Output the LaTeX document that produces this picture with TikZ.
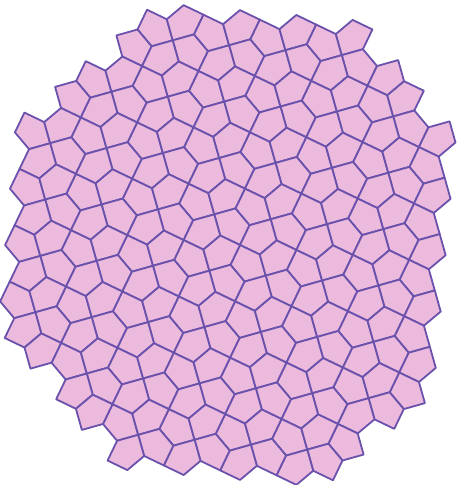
\documentclass[tikz,border=0pt]{standalone}
\begin{document}
\begin{tikzpicture}[x=1pt, y=-1pt, line join=round]
		\definecolor{tilepink}{RGB}{236, 186, 220}
		\definecolor{edgepurple}{RGB}{106, 82, 172}
		\tikzset{tile/.style={fill=tilepink, draw=edgepurple, line width=1.8pt}}
		\useasboundingbox (0,0) rectangle (464,485);
		
		% 开罗五边形参数
		\pgfmathsetmacro{\t}{(sqrt(7)-1)/6}
		\pgfmathsetmacro{\a}{0.5-\t}
		\def\ur{40}
		\def\ph{50}
		\pgfmathsetmacro{\uc}{\ur*cos(\ph)}
		\pgfmathsetmacro{\us}{\ur*sin(\ph)}
		% 外形范围（像素）
		\def\Pl{-214}
		\def\Pr{206}
		\def\Hq{226}
		\def\K{338}
		\def\Kr{312}
		
		% 旋转后的格点坐标系
		\begin{scope}[shift={(240,245)}, x={(\uc pt,-\us pt)}, y={(-\us pt,-\uc pt)}]
			\foreach \i in {-10,...,10}{
				\foreach \j in {-10,...,10}{
					\pgfmathsetmacro{\sg}{ifthenelse(mod(\i+\j+40,2)==0,1,-1)}
					% 横边上的五边形
					\pgfmathsetmacro{\p}{\ur*((\i+0.5)*cos(\ph-5)-\j*sin(\ph-5))}
					\pgfmathsetmacro{\q}{\ur*((\i+0.5)*sin(\ph-5)+\j*cos(\ph-5))}
					\pgfmathparse{(\p>=\Pl) && (\p<=\Pr) && (abs(\q)<=\Hq) && (abs(\p)+abs(\q)<=\K) && (\p+\q<=\Kr)}
					\ifdim\pgfmathresult pt>0.5pt
						\draw[tile] (\i,\j) -- ({\i+0.5},{\j-(\sg)*\a}) -- ({\i+1},\j)
							-- ({\i+0.5+\t},{\j+(\sg)*0.5}) -- ({\i+0.5-\t},{\j+(\sg)*0.5}) -- cycle;
					\fi
					% 竖边上的五边形
					\pgfmathsetmacro{\p}{\ur*(\i*cos(\ph-5)-(\j+0.5)*sin(\ph-5))}
					\pgfmathsetmacro{\q}{\ur*(\i*sin(\ph-5)+(\j+0.5)*cos(\ph-5))}
					\pgfmathparse{(\p>=\Pl) && (\p<=\Pr) && (abs(\q)<=\Hq) && (abs(\p)+abs(\q)<=\K) && (\p+\q<=\Kr)}
					\ifdim\pgfmathresult pt>0.5pt
						\draw[tile] (\i,\j) -- ({\i+(\sg)*\a},{\j+0.5}) -- (\i,{\j+1})
							-- ({\i-(\sg)*0.5},{\j+0.5+\t}) -- ({\i-(\sg)*0.5},{\j+0.5-\t}) -- cycle;
					\fi
				}
			}
		\end{scope}
	\end{tikzpicture}
\end{document}
